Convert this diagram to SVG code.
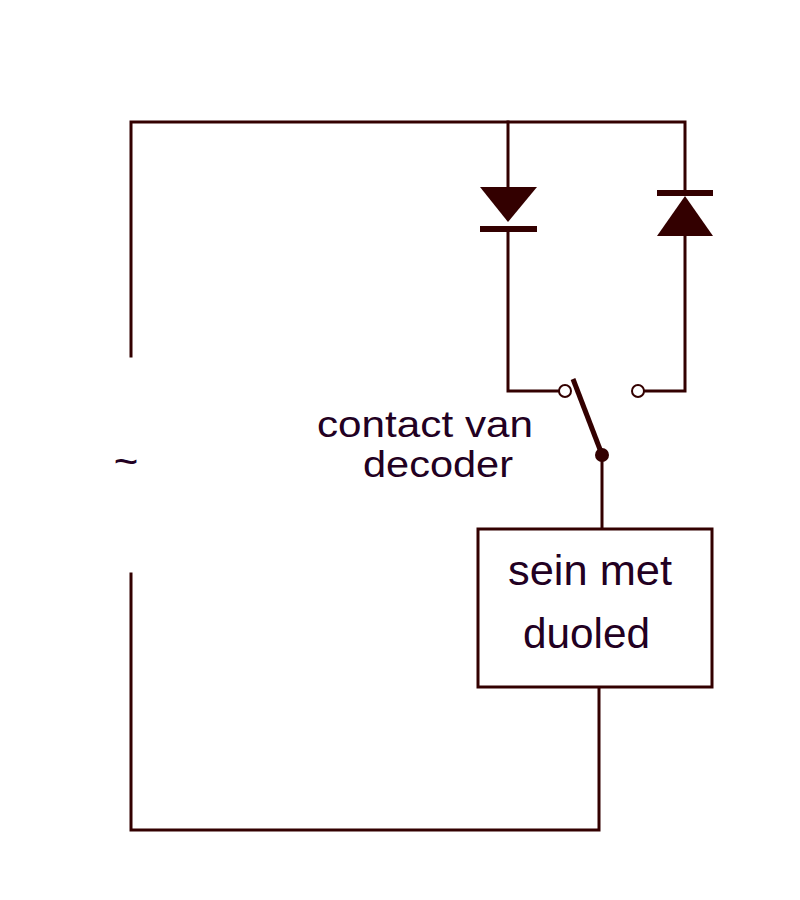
<svg xmlns="http://www.w3.org/2000/svg" width="800" height="900" viewBox="0 0 800 900">
<style>
.w{fill:none;stroke:#330000;stroke-width:3;stroke-linecap:square}
.f{fill:#330000;stroke:none}
.t{font-family:"Liberation Sans",Arial,sans-serif;font-size:42px;fill:#220022}
.s{font-size:36px}
.c{fill:#ffffff;stroke:#330000;stroke-width:2}
</style>
<rect width="800" height="900" fill="#ffffff"/>
<g id="connectors">
<polyline class="w" points="131,356 131,122 685,122 685,193"/>
<line class="w" x1="508" y1="122" x2="508" y2="187"/>
<polyline class="w" points="508,229 508,391 559,391"/>
<polyline class="w" points="685,233 685,391 644,391"/>
<line class="w" x1="602" y1="455" x2="602" y2="528"/>
<polyline class="w" points="599,688 599,830 131,830 131,574"/>
</g>
<g id="diode1">
<polygon class="f" points="480,187 537,187 508,222"/>
<rect class="f" x="480" y="226" width="57" height="6"/>
</g>
<g id="diode2">
<rect class="f" x="657" y="190" width="56" height="6"/>
<polygon class="f" points="685,196 657,236 713,236"/>
</g>
<g id="switch">
<circle class="c" cx="565" cy="391" r="6"/>
<circle class="c" cx="638" cy="391" r="6"/>
<line x1="573" y1="379" x2="601" y2="452" stroke="#330000" stroke-width="5"/>
<circle class="f" cx="602" cy="455" r="7"/>
<text class="t s" x="317" y="437" textLength="216" lengthAdjust="spacingAndGlyphs">contact van</text>
<text class="t s" x="363" y="477" textLength="150" lengthAdjust="spacingAndGlyphs">decoder</text>
</g>
<g id="source">
<text class="t" x="126" y="476" text-anchor="middle">~</text>
</g>
<g id="sein">
<rect class="w" x="478" y="529" width="234" height="158"/>
<text class="t" x="508" y="585" textLength="164" lengthAdjust="spacingAndGlyphs">sein met</text>
<text class="t" x="523" y="648" textLength="127" lengthAdjust="spacingAndGlyphs">duoled</text>
</g>
</svg>
